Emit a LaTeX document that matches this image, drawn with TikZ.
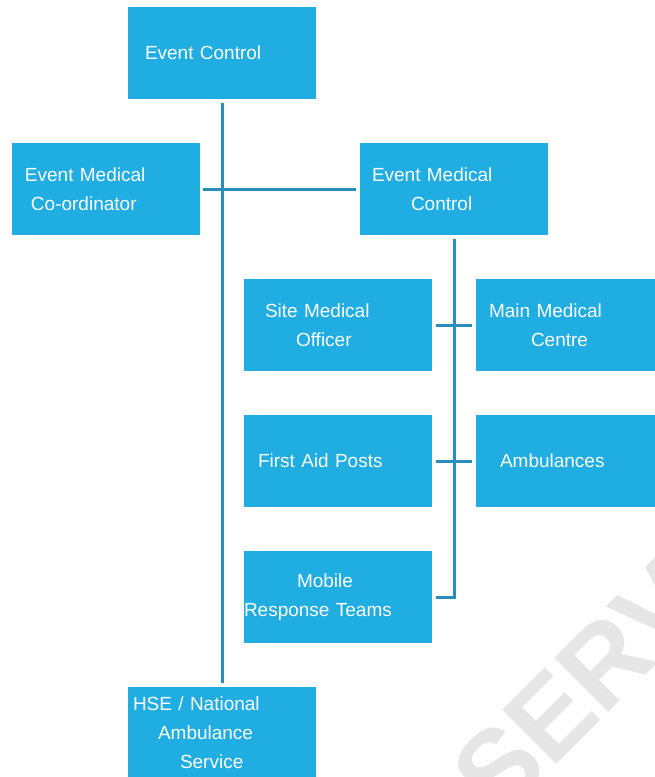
\documentclass[tikz,border=0pt]{standalone}
\usepackage{fontspec}
\setmainfont{Liberation Sans}
\usetikzlibrary{positioning}
\definecolor{boxblau}{HTML}{1FADE2}
\definecolor{linienblau}{HTML}{2A8CBA}
\definecolor{wasser}{HTML}{E6E6E6}

\begin{document}
\begin{tikzpicture}[x=1pt, y=-1pt,
        unit/.style={fill=boxblau, text=white, minimum height=92pt,
                     text width=188pt, inner xsep=0pt, inner ysep=0pt,
                     align=left, font=\fontsize{19}{29}\selectfont},
        conn/.style={draw=linienblau, line width=3pt,
                     shorten <=4pt, shorten >=4pt}
      ]
      \useasboundingbox (0,0) rectangle (655,777);
      \clip (0,0) rectangle (655,777);
      % watermark
      \node[text=wasser, font=\fontsize{111}{111}\selectfont\bfseries, rotate=45,
            anchor=base west, inner sep=0pt] (mark) at (499,822) {SERV};
      % units
      \node[unit] (ectl) at (222,53) {\hspace*{17pt}Event Control};
      \node[unit] (emco) at (106,189)
        {\hspace*{13pt}Event Medical\\\hspace*{19pt}Co-ordinator};
      \node[unit] (emctl) at (454,189)
        {\hspace*{12pt}Event Medical\\\hspace*{51pt}Control};
      \node[unit] (smo) at (338,325)
        {\hspace*{21pt}Site Medical\\\hspace*{52pt}Officer};
      \node[unit] (mmc) at (570,325)
        {\hspace*{13pt}Main Medical\\\hspace*{55pt}Centre};
      \node[unit] (fap) at (338,461) {\hspace*{14pt}First Aid Posts};
      \node[unit] (amb) at (570,461) {\hspace*{24pt}Ambulances};
      \node[unit] (mrt) at (338,597)
        {\hspace*{53pt}Mobile\\Response Teams};
      \node[unit] (hse) at (222,733)
        {\hspace*{5pt}HSE / National\\\hspace*{30pt}Ambulance\\\hspace*{52pt}Service};
      % connectors
      \draw[conn] (ectl.south) -- (hse.north);
      \draw[conn, shorten <=3pt] (emco.east) -- (emctl.west);
      \draw[conn] (emctl.south) |- (mrt.east);
      \draw[conn] (smo.east) -- (mmc.west);
      \draw[conn] (fap.east) -- (amb.west);
    \end{tikzpicture}
\end{document}
